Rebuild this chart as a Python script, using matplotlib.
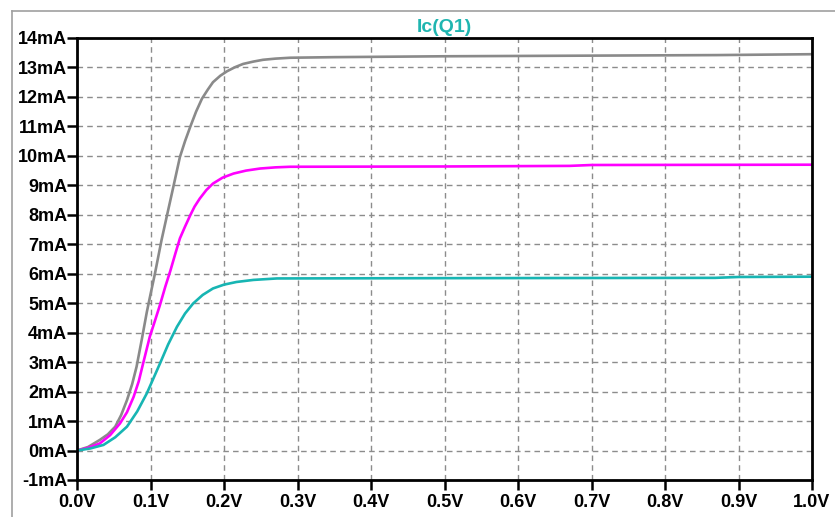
import matplotlib.pyplot as plt
from matplotlib.lines import Line2D

plt.rcParams['font.family'] = ['Liberation Sans', 'DejaVu Sans']

# sweep voltage (V) and collector current (mA)
v_gray = [0, 0.015, 0.031, 0.042, 0.052, 0.060, 0.068, 0.075, 0.081, 0.088, 0.095, 0.100,
          0.106, 0.115, 0.122, 0.131, 0.140, 0.147, 0.154, 0.162, 0.170, 0.178, 0.185,
          0.195, 0.204, 0.215, 0.226, 0.240, 0.253, 0.27, 0.29, 0.35, 0.5, 0.87, 1.0]
i_gray = [0, 0.12, 0.36, 0.55, 0.81, 1.2, 1.71, 2.25, 2.84, 3.75, 4.7, 5.3,
          6.0, 7.14, 7.93, 8.94, 9.96, 10.5, 10.98, 11.5, 11.94, 12.25, 12.5,
          12.72, 12.87, 13.01, 13.12, 13.2, 13.26, 13.3, 13.33, 13.35, 13.38, 13.42, 13.45]

v_mag = [0, 0.015, 0.031, 0.045, 0.0585, 0.068, 0.077, 0.084, 0.090, 0.099, 0.106, 0.113,
         0.120, 0.127, 0.134, 0.140, 0.147, 0.154, 0.160, 0.167, 0.176, 0.185, 0.198,
         0.213, 0.230, 0.249, 0.27, 0.29, 0.5, 0.67, 0.7, 1.0]
i_mag = [0, 0.09, 0.24, 0.52, 0.92, 1.3, 1.82, 2.35, 2.96, 3.86, 4.4, 4.95,
         5.55, 6.1, 6.7, 7.2, 7.6, 7.98, 8.28, 8.55, 8.84, 9.06, 9.26,
         9.40, 9.5, 9.57, 9.61, 9.63, 9.64, 9.66, 9.69, 9.70]

v_teal = [0, 0.018, 0.036, 0.052, 0.068, 0.082, 0.095, 0.104, 0.113, 0.124, 0.136,
          0.147, 0.158, 0.171, 0.185, 0.200, 0.217, 0.240, 0.272, 0.5, 0.868, 0.9, 1.0]
i_teal = [0, 0.07, 0.19, 0.45, 0.81, 1.33, 1.94, 2.45, 2.96, 3.6, 4.2,
          4.65, 4.99, 5.28, 5.50, 5.63, 5.72, 5.79, 5.84, 5.85, 5.86, 5.89, 5.9]

xticks = [round(0.1 * k, 1) for k in range(11)]
yticks = list(range(-1, 15))

fig = plt.figure(figsize=(8.35, 5.17), dpi=100)
ax = fig.add_axes([77 / 835, 37 / 517, 735 / 835, 442 / 517])

ax.plot(v_gray, i_gray, color='#8a8a8a', lw=1.9)
ax.plot(v_mag, i_mag, color='#ff00ff', lw=1.9)
ax.plot(v_teal, i_teal, color='#17b5b3', lw=1.9)

ax.set_xlim(0, 1.0)
ax.set_ylim(-1, 14)
ax.set_xticks(xticks)
ax.set_yticks(yticks)
ax.set_xticklabels([f"{v:.1f}V" for v in xticks])
ax.set_yticklabels([f"{v}mA" for v in yticks])

ax.grid(True, color='#8c8c8c', ls=(0, (4, 3)), lw=1.0)
ax.set_axisbelow(True)
for s in ax.spines.values():
    s.set_linewidth(2.0)
ax.tick_params(axis='both', length=7, width=1.8, direction='out', labelsize=13)
ax.tick_params(axis='y', pad=0)
ax.tick_params(axis='x', pad=3)
for lab in ax.get_xticklabels() + ax.get_yticklabels():
    lab.set_fontweight('bold')

ax.set_title('Ic(Q1)', color='#1fb5b0', fontsize=14, fontweight='bold', pad=4)

# outer window frame
fy = 1 - 10.5 / 517
fx = 12 / 835
fig.add_artist(Line2D([fx, 1], [fy, fy], color='#a0a0a0', lw=1.2))
fig.add_artist(Line2D([fx, fx], [0, fy], color='#a0a0a0', lw=1.2))

fig.savefig('out.png', dpi=100)
